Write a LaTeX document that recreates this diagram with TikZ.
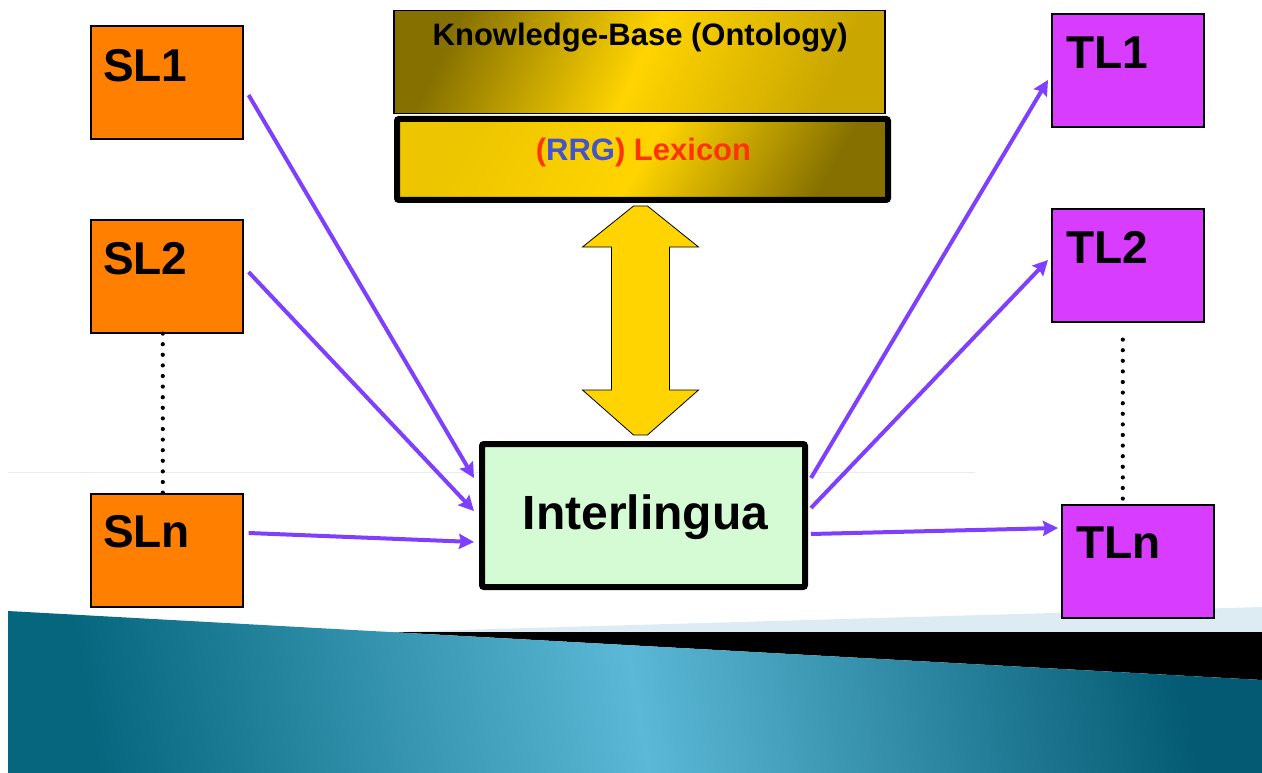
\documentclass[tikz,border=0pt]{standalone}
\usepackage{fontspec}
\setmainfont{Liberation Sans}
\usetikzlibrary{calc,arrows.meta}
\definecolor{slorange}{HTML}{FF7F00}
\definecolor{tlpurple}{HTML}{D83CFF}
\definecolor{arrpurple}{HTML}{7F3FFF}
\definecolor{ilgreen}{HTML}{D5FBD5}
\definecolor{gold}{HTML}{FFD400}
\definecolor{darkgold}{HTML}{857000}
\definecolor{midgold}{HTML}{C9A600}
\definecolor{lexred}{HTML}{FF3300}
\definecolor{rrgblue}{HTML}{4455CC}
\definecolor{tealdark}{HTML}{05667E}
\definecolor{teallight}{HTML}{5BB8D6}
\definecolor{tealright}{HTML}{035A72}
\definecolor{paleblue}{HTML}{DDEBF2}
\definecolor{faintline}{HTML}{E4EDF5}
\tikzset{
  langbox/.style={draw=black, line width=1.6pt, minimum width=152pt, minimum height=113pt, inner sep=0pt, anchor=north west},
  slbox/.style={langbox, fill=slorange},
  tlbox/.style={langbox, fill=tlpurple},
  bigtxt/.style={font=\fontsize{46}{50}\selectfont\bfseries, inner sep=0pt, anchor=west},
  midtxt/.style={font=\fontsize{31}{34}\selectfont\bfseries, inner sep=0pt},
  flow/.style={draw=arrpurple, line width=4pt, -{Stealth[length=15pt,width=15pt,inset=2pt]}},
  dotline/.style={line width=4.2pt, line cap=round, dash pattern=on 0pt off 10.6pt},
}
\begin{document}
\begin{tikzpicture}[x=1pt,y=-1pt]
\useasboundingbox (0,0) rectangle (1262,773);
% background band
\fill[paleblue] (390,632) -- (1262,607) -- (1262,632) -- cycle;
\fill[black] (390,632) -- (1262,632) -- (1262,680) -- cycle;
\shade[left color=tealdark, right color=tealright, middle color=teallight, shading angle=100]
  (8,611) -- (1262,680) -- (1262,773) -- (8,773) -- cycle;
\draw[faintline, line width=1pt] (8,472) -- (975,472);

% language boxes
\node[slbox] (sl1) at (90,25) {};
\node[slbox] (sl2) at (90,219) {};
\node[slbox] (sln) at (90,493) {};
\node[tlbox] (tl1) at (1051,13) {};
\node[tlbox] (tl2) at (1051,208) {};
\node[tlbox] (tln) at (1061,504) {};
\node[bigtxt] (sl1t) at ($(sl1.north west)+(13,41)$) {SL1};
\node[bigtxt] (sl2t) at ($(sl2.north west)+(13,40)$) {SL2};
\node[bigtxt] (slnt) at ($(sln.north west)+(13,39)$) {SLn};
\node[bigtxt] (tl1t) at ($(tl1.north west)+(15,40)$) {TL1};
\node[bigtxt] (tl2t) at ($(tl2.north west)+(15,39)$) {TL2};
\node[bigtxt] (tlnt) at ($(tln.north west)+(15,39)$) {TLn};

% knowledge base and lexicon
\node[draw=black, line width=1.5pt, minimum width=491pt, minimum height=103pt, inner sep=0pt, anchor=north west,
      left color=darkgold, right color=midgold, middle color=gold, shading angle=65] (kb) at (393,10) {};
\node[midtxt, anchor=center] (kbt) at ($(kb.north)+(1,28)$) {Knowledge-Base (Ontology)};
\node[draw=black, line width=6pt, rounded corners=2pt, minimum width=491pt, minimum height=81pt, inner sep=0pt, anchor=north west,
      left color=gold!85!darkgold, right color=darkgold, middle color=gold, shading angle=60] (lex) at (394,116) {};
\node[midtxt] (lext) at ($(lex.center)+(1,-7)$) {\textcolor{lexred}{(}\textcolor{rrgblue}{RRG}\textcolor{lexred}{) Lexicon}};

% interlingua
\node[draw=black, line width=6pt, rounded corners=2pt, fill=ilgreen, minimum width=323pt, minimum height=143pt, inner sep=0pt, anchor=north west] (ilg) at (479,441) {};
\node[font=\fontsize{48}{52}\selectfont\bfseries, inner sep=0pt] (ilgt) at ($(ilg.center)+(2,2)$) {Interlingua};

% double arrow between lexicon and interlingua
\coordinate (datop) at ($(lex.south)+(-2,3)$);
\coordinate (dabot) at ($(ilg.north)+(-3,-6)$);
\filldraw[fill=gold, draw=black, line width=0.8pt]
  ($(datop)+(7,0)$) -- ++(51,41) -- ++(-29,0) -- ($(dabot)+(29,-45)$) -- ++(29,0) -- ++(-51,45) -- ++(-14,0)
  -- ++(-51,-45) -- ++(29,0) -- ($(datop)+(-29,41)$) -- ++(-29,0) -- ++(51,-41) -- cycle;

% flows
\draw[flow] ($(sl1.north east)+(5,70)$) -- ($(ilg.north west)+(-5,37)$);
\draw[flow] ($(sl2.north east)+(5,53)$) -- ($(ilg.north west)+(-5,70)$);
\draw[flow] ($(sln.north east)+(5,40)$) -- ($(ilg.north west)+(-5,101)$);
\draw[flow] ($(ilg.north east)+(3,37)$) -- ($(tl1.north west)+(-3,67)$);
\draw[flow] ($(ilg.north east)+(3,67)$) -- ($(tl2.north west)+(-3,52)$);
\draw[flow] ($(ilg.north east)+(3,93)$) -- ($(tln.north west)+(-3,24)$);

% dotted links
\draw[dotline] ($(sl2.south)+(-4,0)$) -- ($(sln.north)+(-4,0)$);
\draw[dotline] ($(tl2.south)+(-5,17)$) -- ($(tl2.south)+(-5,179)$);
\end{tikzpicture}
\end{document}
